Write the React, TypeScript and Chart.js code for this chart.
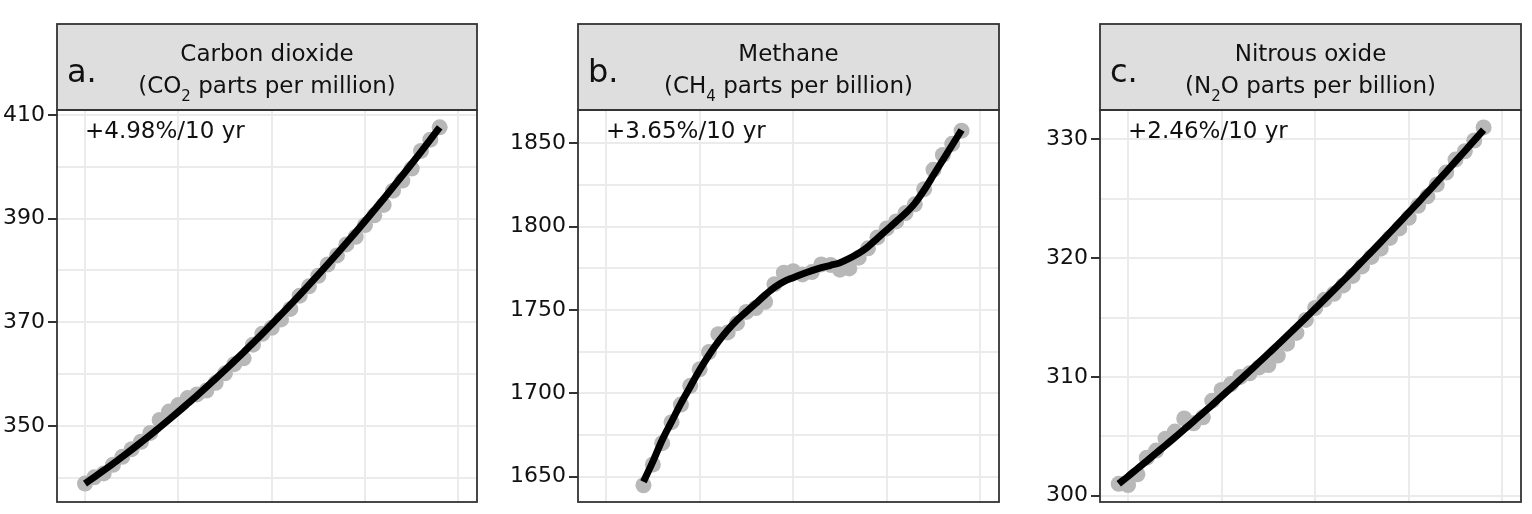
import React, { useEffect, useRef } from 'react';
import { Chart, registerables } from 'chart.js';

Chart.register(...registerables);

const FONT = "'DejaVu Sans', 'Liberation Sans', sans-serif";
const TEXT = '#111111';

// ---------- data ----------
const co2Years = [1980, 1981, 1982, 1983, 1984, 1985, 1986, 1987, 1988, 1989, 1990, 1991, 1992, 1993, 1994, 1995, 1996, 1997, 1998, 1999, 2000, 2001, 2002, 2003, 2004, 2005, 2006, 2007, 2008, 2009, 2010, 2011, 2012, 2013, 2014, 2015, 2016, 2017, 2018];
const co2Values = [338.91, 340.11, 340.86, 342.53, 344.07, 345.54, 346.97, 348.68, 351.16, 352.78, 354.05, 355.39, 356.09, 356.83, 358.33, 360.17, 361.93, 363.05, 365.7, 367.8, 368.96, 370.57, 372.59, 375.15, 376.95, 378.98, 381.15, 382.9, 385.02, 386.5, 388.76, 390.63, 392.65, 395.4, 397.34, 399.65, 403.06, 405.22, 407.61];
const co2Smooth = [338.9, 340.15, 341.43, 342.73, 344.08, 345.45, 346.85, 348.27, 349.74, 351.23, 352.75, 354.31, 355.88, 357.49, 359.14, 360.81, 362.52, 364.24, 366.01, 367.8, 369.63, 371.48, 373.36, 375.27, 377.22, 379.19, 381.2, 383.23, 385.29, 387.39, 389.52, 391.67, 393.85, 396.07, 398.32, 400.59, 402.89, 405.23, 407.6];

const ch4Years = [1984, 1985, 1986, 1987, 1988, 1989, 1990, 1991, 1992, 1993, 1994, 1995, 1996, 1997, 1998, 1999, 2000, 2001, 2002, 2003, 2004, 2005, 2006, 2007, 2008, 2009, 2010, 2011, 2012, 2013, 2014, 2015, 2016, 2017, 2018];
const ch4Values = [1644.85, 1657.29, 1670.09, 1682.69, 1693.28, 1704.53, 1714.43, 1724.78, 1735.47, 1736.53, 1742.08, 1748.84, 1751.2, 1754.88, 1765.48, 1772.4, 1773.27, 1771.33, 1772.73, 1777.33, 1777.05, 1774.21, 1774.94, 1781.42, 1787.01, 1793.53, 1798.92, 1803.15, 1808.16, 1813.41, 1822.52, 1834.19, 1843.04, 1849.71, 1857.6];
const ch4Smooth = [1647, 1659, 1672, 1683, 1694, 1704, 1714, 1723, 1731, 1738, 1744, 1749, 1754, 1759, 1763.6, 1767, 1769.4, 1771.6, 1773.6, 1775.4, 1776.8, 1778.4, 1781, 1784, 1788, 1793, 1798, 1803, 1808, 1814, 1822, 1831, 1840, 1849, 1858];

const n2oYears = [1979, 1980, 1981, 1982, 1983, 1984, 1985, 1986, 1987, 1988, 1989, 1990, 1991, 1992, 1993, 1994, 1995, 1996, 1997, 1998, 1999, 2000, 2001, 2002, 2003, 2004, 2005, 2006, 2007, 2008, 2009, 2010, 2011, 2012, 2013, 2014, 2015, 2016, 2017, 2018];
const n2oValues = [301.0, 300.9, 301.8, 303.2, 303.8, 304.8, 305.4, 306.5, 306.1, 306.6, 308.0, 308.9, 309.4, 310.0, 310.3, 310.8, 311.0, 311.8, 312.8, 313.7, 314.8, 315.8, 316.5, 317.0, 317.7, 318.5, 319.3, 320.1, 320.8, 321.7, 322.5, 323.4, 324.4, 325.2, 326.2, 327.2, 328.3, 329.0, 329.9, 331.0];
const n2oSmooth = [301.0, 301.63, 302.28, 302.92, 303.58, 304.24, 304.9, 305.58, 306.26, 306.96, 307.65, 308.36, 309.06, 309.77, 310.5, 311.23, 311.97, 312.71, 313.46, 314.22, 314.98, 315.76, 316.53, 317.31, 318.11, 318.9, 319.71, 320.52, 321.34, 322.17, 323.0, 323.84, 324.68, 325.54, 326.4, 327.26, 328.14, 329.02, 329.91, 330.8];

const xGridYears = [1980, 1990, 2000, 2010, 2020];

const co2GridTicks = [340, 350, 360, 370, 380, 390, 400, 410];
const co2TickLabels = [350, 370, 390, 410];
const ch4GridTicks = [1650, 1675, 1700, 1725, 1750, 1775, 1800, 1825, 1850];
const ch4TickLabels = [1650, 1700, 1750, 1800, 1850];
const n2oGridTicks = [300, 305, 310, 315, 320, 325, 330];
const n2oTickLabels = [300, 310, 320, 330];

// ---------- panel decoration plugin ----------
const decorPlugin = {
  id: 'decor',
  afterDraw(chart: any, _args: any, opts: any) {
    const { ctx, chartArea: ca } = chart;
    const stripTop = 24;
    ctx.save();
    // strip
    ctx.fillStyle = '#dedede';
    ctx.fillRect(ca.left, stripTop, ca.right - ca.left, ca.top - stripTop);
    ctx.strokeStyle = '#333333';
    ctx.lineWidth = 1.8;
    ctx.strokeRect(ca.left, stripTop, ca.right - ca.left, ca.top - stripTop);
    // panel frame
    ctx.strokeRect(ca.left, ca.top, ca.right - ca.left, ca.bottom - ca.top);

    ctx.fillStyle = TEXT;
    ctx.textBaseline = 'alphabetic';
    // letter
    ctx.textAlign = 'left';
    ctx.font = `32px ${FONT}`;
    ctx.fillText(opts.letter, ca.left + 10, 82);
    // title line 1
    const cx = (ca.left + ca.right) / 2;
    ctx.textAlign = 'center';
    ctx.font = `23px ${FONT}`;
    ctx.fillText(opts.title, cx, 61);
    // title line 2 with subscript
    ctx.textAlign = 'left';
    ctx.font = `23px ${FONT}`;
    const w1 = ctx.measureText(opts.pre).width;
    const w3 = ctx.measureText(opts.post).width;
    ctx.font = `15px ${FONT}`;
    const w2 = ctx.measureText(opts.sub).width;
    let x = cx - (w1 + w2 + w3) / 2;
    ctx.font = `23px ${FONT}`;
    ctx.fillText(opts.pre, x, 93);
    x += w1;
    ctx.font = `15px ${FONT}`;
    ctx.fillText(opts.sub, x, 101);
    x += w2;
    ctx.font = `23px ${FONT}`;
    ctx.fillText(opts.post, x, 93);
    // trend annotation
    ctx.font = `23px ${FONT}`;
    ctx.fillText(opts.note, chart.scales.x.getPixelForValue(1980), ca.top + 28);
    ctx.restore();
  },
};

type PanelCfg = {
  left: number;
  width: number;
  axisW: number;
  years: number[];
  values: number[];
  smooth: number[];
  yMin: number;
  yMax: number;
  gridTicks: number[];
  tickLabels: number[];
  letter: string;
  title: string;
  pre: string;
  sub: string;
  post: string;
  note: string;
};

const panels: PanelCfg[] = [
  {
    left: 0, width: 485, axisW: 57,
    years: co2Years, values: co2Values, smooth: co2Smooth,
    yMin: 335.35, yMax: 410.95,
    gridTicks: co2GridTicks, tickLabels: co2TickLabels,
    letter: 'a.', title: 'Carbon dioxide', pre: '(CO', sub: '2', post: ' parts per million)',
    note: '+4.98%/10 yr',
  },
  {
    left: 508, width: 499, axisW: 70,
    years: ch4Years, values: ch4Values, smooth: ch4Smooth,
    yMin: 1634.8, yMax: 1870,
    gridTicks: ch4GridTicks, tickLabels: ch4TickLabels,
    letter: 'b.', title: 'Methane', pre: '(CH', sub: '4', post: ' parts per billion)',
    note: '+3.65%/10 yr',
  },
  {
    left: 1030, width: 499, axisW: 70,
    years: n2oYears, values: n2oValues, smooth: n2oSmooth,
    yMin: 299.47, yMax: 332.47,
    gridTicks: n2oGridTicks, tickLabels: n2oTickLabels,
    letter: 'c.', title: 'Nitrous oxide', pre: '(N', sub: '2', post: 'O parts per billion)',
    note: '+2.46%/10 yr',
  },
];

function Panel({ cfg }: { cfg: PanelCfg }) {
  const ref = useRef<HTMLCanvasElement>(null);
  useEffect(() => {
    if (!ref.current) return;
    const pts = cfg.years.map((yr, i) => ({ x: yr, y: cfg.values[i] }));
    const line = cfg.years.map((yr, i) => ({ x: yr, y: cfg.smooth[i] }));
    const chart = new Chart(ref.current, {
      type: 'line',
      data: {
        datasets: [
          {
            data: line,
            borderColor: '#000000',
            borderWidth: 7,
            pointRadius: 0,
            cubicInterpolationMode: 'monotone',
            borderCapStyle: 'butt',
            borderJoinStyle: 'round',
            fill: false,
            order: 0,
          } as any,
          {
            data: pts,
            showLine: false,
            pointRadius: 8,
            pointBackgroundColor: '#b8b8b8',
            pointBorderWidth: 0,
            pointBorderColor: '#b8b8b8',
            order: 1,
          } as any,
        ],
      },
      options: {
        animation: false,
        responsive: false,
        events: [],
        layout: { padding: { top: 110, bottom: 12, left: 0, right: 4 } },
        plugins: {
          legend: { display: false },
          tooltip: { enabled: false },
          decor: {
            letter: cfg.letter, title: cfg.title, pre: cfg.pre, sub: cfg.sub, post: cfg.post, note: cfg.note,
          },
        } as any,
        scales: {
          x: {
            type: 'linear',
            min: 1977,
            max: 2022,
            afterBuildTicks: (s: any) => {
              s.ticks = xGridYears.map((v) => ({ value: v }));
            },
            afterFit: (s: any) => {
              s.height = 0;
              s.paddingLeft = 0;
              s.paddingRight = 0;
            },
            ticks: { display: false },
            grid: { color: '#ebebeb', lineWidth: 2, drawTicks: false },
            border: { display: false },
          },
          y: {
            type: 'linear',
            min: cfg.yMin,
            max: cfg.yMax,
            afterBuildTicks: (s: any) => {
              s.ticks = cfg.gridTicks.map((v) => ({ value: v }));
            },
            afterFit: (s: any) => {
              s.width = cfg.axisW;
              s.paddingTop = 0;
              s.paddingBottom = 0;
            },
            ticks: {
              autoSkip: false,
              color: TEXT,
              padding: 3,
              font: { family: FONT, size: 22 },
              callback: (v: any) => (cfg.tickLabels.includes(Number(v)) ? String(v) : ''),
            },
            grid: {
              color: '#ebebeb',
              lineWidth: 2,
              tickLength: 9,
              tickWidth: 2,
              tickColor: (c: any) =>
                c.tick && cfg.tickLabels.includes(c.tick.value) ? '#333333' : 'rgba(0,0,0,0)',
            },
            border: { display: false },
          },
        },
      },
      plugins: [decorPlugin as any],
    });
    return () => chart.destroy();
  }, [cfg]);
  return (
    <canvas
      ref={ref}
      width={cfg.width}
      height={514}
      style={{ position: 'absolute', left: cfg.left, top: 0, width: cfg.width, height: 514 }}
    />
  );
}

export default function App() {
  return (
    <div style={{ position: 'absolute', left: 0, top: 0, width: 1532, height: 514, background: '#ffffff', overflow: 'hidden' }}>
      {panels.map((p) => (
        <Panel key={p.letter} cfg={p} />
      ))}
    </div>
  );
}
